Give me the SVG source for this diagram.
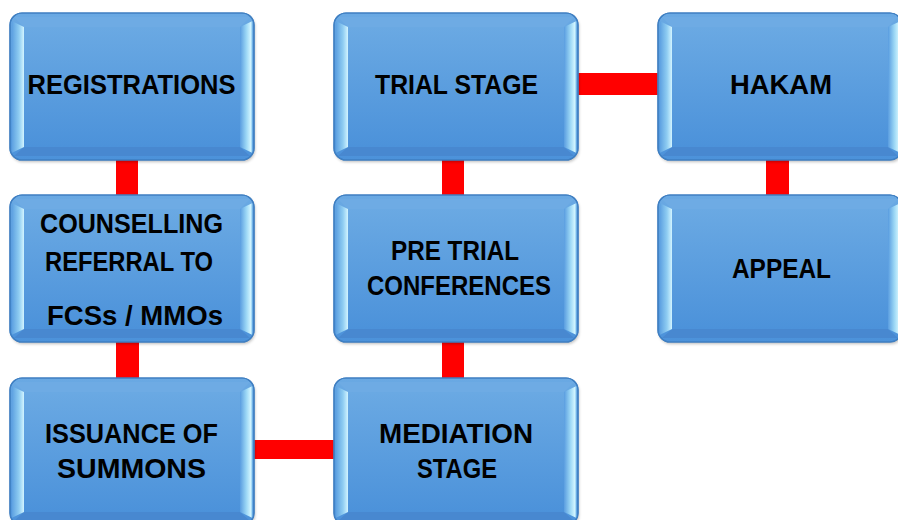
<svg xmlns="http://www.w3.org/2000/svg" xmlns:xlink="http://www.w3.org/1999/xlink" width="898" height="520" viewBox="0 0 898 520">
<style>
.lbl{font-family:"Liberation Sans",Arial,sans-serif;font-weight:bold;font-size:27px;fill:#000;text-anchor:middle}
.conn{fill:#ff0000}
</style>
<defs>
<linearGradient id="face" x1="0" y1="0" x2="0" y2="1">
<stop offset="0" stop-color="#6aa9e3"/>
<stop offset="1" stop-color="#4c92da"/>
</linearGradient>
<linearGradient id="bl" x1="0" y1="0" x2="1" y2="0">
<stop offset="0" stop-color="#5a9ee0"/>
<stop offset="0.6" stop-color="#8fcdf2"/>
<stop offset="1" stop-color="#d2f4ff"/>
</linearGradient>
<linearGradient id="br" x1="0" y1="0" x2="1" y2="0">
<stop offset="0" stop-color="#5a9de0"/>
<stop offset="0.5" stop-color="#9ad6f5"/>
<stop offset="0.85" stop-color="#d0f4ff"/>
<stop offset="1" stop-color="#7fc0ec"/>
</linearGradient>
<filter id="sh" x="-5%" y="-5%" width="115%" height="115%">
<feGaussianBlur stdDeviation="1.5"/>
</filter>
<g id="box">
<rect x="1" y="2" width="244" height="147" rx="12" fill="#000" opacity="0.25" filter="url(#sh)"/>
<rect x="0" y="0" width="244" height="147" rx="12" fill="url(#face)" stroke="#3f7fc2" stroke-width="1.2"/>
<polygon points="4,4 240,4 230,14 14,14" fill="#6eabe4"/>
<polygon points="4,143 240,143 230,134 14,134" fill="#4888d0"/>
<polygon points="1.5,8 14,14 14,134 1.5,140" fill="url(#bl)"/>
<polygon points="230,14 242.5,8 242.5,140 230,134" fill="url(#br)"/>
<rect x="14" y="14" width="216" height="120" fill="url(#face)"/>
<rect x="0" y="0" width="244" height="147" rx="12" fill="none" stroke="#3f7fc2" stroke-width="1.2"/>
</g>
</defs>
<rect width="898" height="520" fill="#fff"/>
<g id="connectors">
<rect class="conn" x="116" y="155" width="22" height="44"/>
<rect class="conn" x="116" y="338" width="23" height="44"/>
<rect class="conn" x="250" y="440" width="88" height="19"/>
<rect class="conn" x="442" y="155" width="22" height="44"/>
<rect class="conn" x="442" y="338" width="22" height="44"/>
<rect class="conn" x="575" y="73" width="87" height="22"/>
<rect class="conn" x="766" y="155" width="23" height="44"/>
</g>
<g id="registrations">
<use xlink:href="#box" x="10" y="13"/>
<text class="lbl" x="131.5" y="94" textLength="208" lengthAdjust="spacingAndGlyphs">REGISTRATIONS</text>
</g>
<g id="counselling">
<use xlink:href="#box" x="10" y="195"/>
<text class="lbl" x="131.5" y="233" textLength="183" lengthAdjust="spacingAndGlyphs">COUNSELLING</text>
<text class="lbl" x="129" y="271" textLength="168" lengthAdjust="spacingAndGlyphs">REFERRAL TO</text>
<text class="lbl" x="135" y="325" textLength="176" lengthAdjust="spacingAndGlyphs">FCSs / MMOs</text>
</g>
<g id="issuance">
<use xlink:href="#box" x="10" y="378"/>
<text class="lbl" x="131.5" y="443" textLength="173" lengthAdjust="spacingAndGlyphs">ISSUANCE OF</text>
<text class="lbl" x="131.5" y="478" textLength="149" lengthAdjust="spacingAndGlyphs">SUMMONS</text>
</g>
<g id="trial">
<use xlink:href="#box" x="334" y="13"/>
<text class="lbl" x="456.5" y="94" textLength="163" lengthAdjust="spacingAndGlyphs">TRIAL STAGE</text>
</g>
<g id="pretrial">
<use xlink:href="#box" x="334" y="195"/>
<text class="lbl" x="455" y="260" textLength="128" lengthAdjust="spacingAndGlyphs">PRE TRIAL</text>
<text class="lbl" x="459" y="295" textLength="184" lengthAdjust="spacingAndGlyphs">CONFERENCES</text>
</g>
<g id="mediation">
<use xlink:href="#box" x="334" y="378"/>
<text class="lbl" x="456" y="443" textLength="154" lengthAdjust="spacingAndGlyphs">MEDIATION</text>
<text class="lbl" x="457" y="478" textLength="80" lengthAdjust="spacingAndGlyphs">STAGE</text>
</g>
<g id="hakam">
<use xlink:href="#box" x="658" y="13"/>
<text class="lbl" x="781" y="94" textLength="102" lengthAdjust="spacingAndGlyphs">HAKAM</text>
</g>
<g id="appeal">
<use xlink:href="#box" x="658" y="195"/>
<text class="lbl" x="781.5" y="278" textLength="99" lengthAdjust="spacingAndGlyphs">APPEAL</text>
</g>
</svg>
